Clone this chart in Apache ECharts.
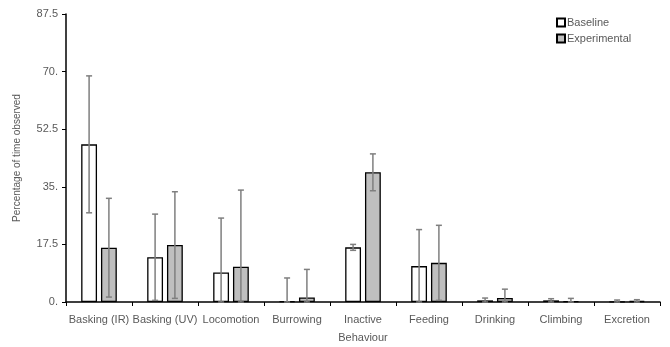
<!DOCTYPE html>
<html>
<head>
<meta charset="utf-8">
<script src="https://cdn.jsdelivr.net/npm/echarts@6/dist/echarts.min.js"></script>
<style>html,body{margin:0;padding:0;background:#fff}#c{width:670px;height:347px}</style>
</head>
<body>
<div id="c"></div>
<script>
var categories = ['Basking (IR)', 'Basking (UV)', 'Locomotion', 'Burrowing', 'Inactive', 'Feeding', 'Drinking', 'Climbing', 'Excretion'];
var baselineMean = [47.9, 13.6, 9.0, 0.2, 16.6, 10.9, 0.5, 0.5, 0.1];
var baselineErr  = [20.8, 13.1, 16.5, 7.1, 0.9, 11.1, 0.7, 0.5, 0.5];
var experimentalMean = [16.5, 17.3, 10.7, 1.4, 39.4, 11.9, 1.2, 0.2, 0.3];
var experimentalErr  = [15.0, 16.2, 23.3, 8.5, 5.6, 11.4, 2.7, 0.9, 0.4];
var yTicks = [0, 17.5, 35, 52.5, 70, 87.5];
var yTickLabels = ['0.', '17.5', '35.', '52.5', '70.', '87.5'];

var FONT = "'Liberation Sans Narrow', 'Liberation Sans', sans-serif";
var TXT = '#595959';

function errData(mean, err) {
  return mean.map(function (m, i) {
    return [i, Math.max(0, m - err[i]), m + err[i]];
  });
}

function errRenderer(sign) {
  return function (params, api) {
    var i = api.value(0);
    var band = api.size([1, 0])[0];
    var off = sign * band * 0.15;
    var lo = api.coord([i, api.value(1)]);
    var hi = api.coord([i, api.value(2)]);
    var x = lo[0] + off;
    var cap = 3;
    var style = { stroke: '#7f7f7f', lineWidth: 1.5 };
    return {
      type: 'group',
      children: [
        { type: 'line', shape: { x1: x, y1: lo[1], x2: x, y2: hi[1] }, style: style },
        { type: 'line', shape: { x1: x - cap, y1: hi[1], x2: x + cap, y2: hi[1] }, style: style },
        { type: 'line', shape: { x1: x - cap, y1: lo[1], x2: x + cap, y2: lo[1] }, style: style }
      ]
    };
  };
}

var chart = echarts.init(document.getElementById('c'), null, { renderer: 'canvas' });
chart.setOption({
  animation: false,
  textStyle: { fontFamily: FONT },
  grid: { left: 66, right: 10, top: 14, bottom: 45, containLabel: false, outerBoundsMode: 'none' },
  legend: {
    orient: 'vertical',
    left: 551,
    top: 12,
    itemWidth: 8,
    itemHeight: 8,
    itemGap: 5,
    icon: 'rect',
    data: ['Baseline', 'Experimental'],
    textStyle: { color: TXT, fontSize: 11, fontFamily: FONT, padding: [0, 0, 0, -3] }
  },
  xAxis: {
    type: 'category',
    data: categories,
    name: 'Behaviour',
    nameLocation: 'middle',
    nameGap: 30,
    nameTextStyle: { color: TXT, fontSize: 11, fontFamily: FONT },
    axisLine: { lineStyle: { color: '#000', width: 1.5 } },
    axisTick: { show: true, length: 4, lineStyle: { color: '#000' } },
    axisLabel: { color: TXT, fontSize: 11, fontFamily: FONT, margin: 12, interval: 0 }
  },
  yAxis: {
    type: 'value',
    min: 0,
    max: 87.5,
    interval: 17.5,
    name: 'Percentage of time observed',
    nameLocation: 'middle',
    nameGap: 44,
    nameTextStyle: { color: TXT, fontSize: 10, fontFamily: FONT },
    axisLine: { show: true, lineStyle: { color: '#000', width: 1.5 } },
    axisTick: { show: true, length: 4, lineStyle: { color: '#000' } },
    splitLine: { show: false },
    axisLabel: {
      color: TXT, fontSize: 11, fontFamily: FONT, margin: 8,
      formatter: function (v) {
        var idx = yTicks.indexOf(v);
        return idx >= 0 ? yTickLabels[idx] : String(v);
      }
    }
  },
  series: [
    {
      name: 'Baseline', type: 'bar', data: baselineMean,
      barWidth: '24%', barGap: '25%',
      itemStyle: { color: '#ffffff', borderColor: '#000', borderWidth: 1.3 }
    },
    {
      name: 'Experimental', type: 'bar', data: experimentalMean,
      barWidth: '24%', barGap: '25%',
      itemStyle: { color: '#bfbfbf', borderColor: '#000', borderWidth: 1.3 }
    },
    {
      type: 'custom', name: 'errB', renderItem: errRenderer(-1),
      data: errData(baselineMean, baselineErr), z: 10,
      encode: { x: 0, y: [1, 2] }
    },
    {
      type: 'custom', name: 'errE', renderItem: errRenderer(1),
      data: errData(experimentalMean, experimentalErr), z: 10,
      encode: { x: 0, y: [1, 2] }
    }
  ]
});
</script>
</body>
</html>
